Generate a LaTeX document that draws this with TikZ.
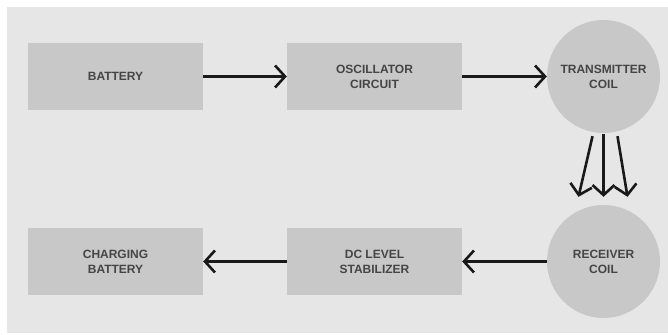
\documentclass[tikz,border=0pt]{standalone}
\usepackage{fontspec}
\setmainfont{Liberation Sans}
\usepackage{tikz}
\usetikzlibrary{arrows.meta,positioning,calc}
\definecolor{cBg}{HTML}{E6E6E6}
\definecolor{cBlock}{HTML}{C8C8C8}
\definecolor{cText}{HTML}{454545}

\begin{document}
\begin{tikzpicture}[
  x=1pt,y=1pt,
  font=\fontsize{12}{15}\selectfont\bfseries,
  box/.style ={fill=cBlock,text=cText,align=center,inner sep=0pt,
               minimum width=175pt,minimum height=67pt},
  coil/.style={circle,fill=cBlock,text=cText,align=center,inner sep=0pt,
               minimum size=113pt},
  a/.style   ={-{Straight Barb[length=10pt,width=22pt,line width=2.6pt]},
               draw=black!90,line width=2.6pt},
]
\useasboundingbox (0,0) rectangle (668,334);
\fill[white] (0,0) rectangle (668,334);
\fill[cBg] (7,1) rectangle (668,327);

\node[box]  (bat) at (115.5,257.5) {BATTERY};
\node[box]  (osc) at (374.5,257.5) {OSCILLATOR\\CIRCUIT};
\node[coil] (tx)  at (603.5,257.5) {TRANSMITTER\\COIL};

\node[coil] (rx)  at (603.5,72.5) {RECEIVER\\COIL};
\node[box]  (dc)  at (374.5,72.5) {DC LEVEL\\STABILIZER};
\node[box]  (chg) at (115.5,72.5) {CHARGING\\BATTERY};

\draw[a] (bat) -- (osc);
\draw[a] (osc) -- (tx);

% coupling between the coils
\draw[a] ([xshift=-11pt,yshift=-3pt]tx.south) -- ([xshift=-25pt,yshift=8pt]rx.north);
\draw[a] ([yshift=-1pt]tx.south) -- ([yshift=8pt]rx.north);
\draw[a] ([xshift=14pt,yshift=-3pt]tx.south) -- ([xshift=24pt,yshift=8pt]rx.north);

\draw[a] (rx) -- (dc);
\draw[a] (dc) -- (chg);
\end{tikzpicture}
\end{document}
